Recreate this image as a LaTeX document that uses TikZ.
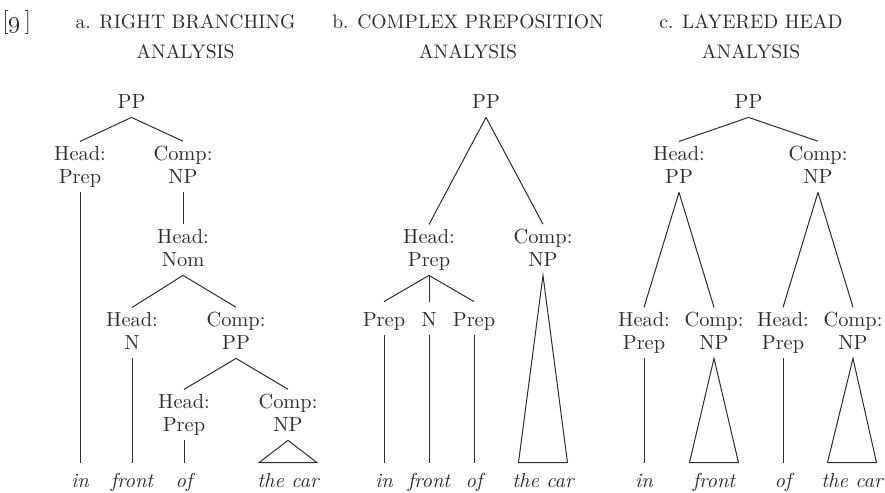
\documentclass[tikz,border=0pt]{standalone}
\usepackage{tikz}
\definecolor{TreeInk}{RGB}{45, 45, 45}

\begin{document}
\begin{tikzpicture}[
        x=0.5pt, y=-0.5pt,
        lab/.style={align=center, anchor=base, inner xsep=1pt, inner ysep=2pt, text=TreeInk,
            font=\fontsize{10.2}{11.5}\selectfont,
            execute at begin node={\rule{0pt}{10pt}},
            execute at end node={\rule[-2.5pt]{0pt}{2.5pt}}},
        word/.style={lab, font=\fontsize{10.2}{11.5}\selectfont\itshape},
        heading/.style={align=center, anchor=base, inner sep=0pt, text=TreeInk, font=\fontsize{9.8}{15}\selectfont},
        branch/.style={draw=TreeInk, line width=0.5pt}
    ]
        \useasboundingbox (0,0) rectangle (885,493);

        % Headings (base = last line)
        \node[heading, anchor=base west, font=\fontsize{12}{14}\selectfont] (num) at (2,28) {[\oldstylenums{9}\,]};
        \node[heading] (headA) at (185.5,58) {a. RIGHT BRANCHING\\ANALYSIS};
        \node[heading] (headB) at (468,58) {b. COMPLEX PREPOSITION\\ANALYSIS};
        \node[heading] (headC) at (751,58) {c. LAYERED HEAD\\ANALYSIS};

        % a. Right branching
        \node[lab] (aPP) at (131.5,108) {PP};
        \node[lab] (aHead) at (80,183) {Head:\\Prep};
        \node[lab] (aComp) at (183,183) {Comp:\\NP};
        \node[lab] (aNom) at (183,266) {Head:\\Nom};
        \node[lab] (aN) at (132,349) {Head:\\N};
        \node[lab] (aCompPP) at (236,349) {Comp:\\PP};
        \node[lab] (aPrep) at (184,431) {Head:\\Prep};
        \node[lab] (aNP) at (288,431) {Comp:\\NP};
        \node[word] (aIn) at (80,487) {in};
        \node[word] (aFront) at (132,487) {front};
        \node[word] (aOf) at (184,487) {of};
        \node[word] (aCar) at (288,487) {the car};
        \draw[branch] (aPP.south) -- (aHead.north);
        \draw[branch] (aPP.south) -- (aComp.north);
        \draw[branch] (aComp.south) -- (aNom.north);
        \draw[branch] (aNom.south) -- (aN.north);
        \draw[branch] (aNom.south) -- (aCompPP.north);
        \draw[branch] (aCompPP.south) -- (aPrep.north);
        \draw[branch] (aCompPP.south) -- (aNP.north);
        \draw[branch] (aHead.south) -- (aIn.north);
        \draw[branch] (aN.south) -- (aFront.north);
        \draw[branch] (aPrep.south) -- (aOf.north);
        \draw[branch] (aNP.south) -- ([xshift=-14.5pt]aCar.north) -- ([xshift=14.5pt]aCar.north) -- cycle;

        % b. Complex preposition
        \node[lab] (bPP) at (486,108) {PP};
        \node[lab] (bHead) at (429,266) {Head:\\Prep};
        \node[lab] (bComp) at (543,266) {Comp:\\NP};
        \node[lab] (bPrepA) at (384,326) {Prep};
        \node[lab] (bN) at (429,326) {N};
        \node[lab] (bPrepB) at (474,326) {Prep};
        \node[word] (bIn) at (384,487) {in};
        \node[word] (bFront) at (429,487) {front};
        \node[word] (bOf) at (474,487) {of};
        \node[word] (bCar) at (543,487) {the car};
        \draw[branch] (bPP.south) -- (bHead.north);
        \draw[branch] (bPP.south) -- (bComp.north);
        \draw[branch] (bHead.south) -- (bPrepA.north);
        \draw[branch] (bHead.south) -- (bN.north);
        \draw[branch] (bHead.south) -- (bPrepB.north);
        \draw[branch] (bPrepA.south) -- (bIn.north);
        \draw[branch] (bN.south) -- (bFront.north);
        \draw[branch] (bPrepB.south) -- (bOf.north);
        \draw[branch] (bComp.south) -- ([xshift=-12.25pt]bCar.north) -- ([xshift=12.25pt]bCar.north) -- cycle;

        % c. Layered head
        \node[lab] (cPP) at (748.5,108) {PP};
        \node[lab] (cHead) at (679,183) {Head:\\PP};
        \node[lab] (cComp) at (818,183) {Comp:\\NP};
        \node[lab] (cPrepA) at (644,349) {Head:\\Prep};
        \node[lab] (cNPA) at (714,349) {Comp:\\NP};
        \node[lab] (cPrepB) at (783,349) {Head:\\Prep};
        \node[lab] (cNPB) at (853,349) {Comp:\\NP};
        \node[word] (cIn) at (644,487) {in};
        \node[word] (cFront) at (714,487) {front};
        \node[word] (cOf) at (783,487) {of};
        \node[word] (cCar) at (852,487) {the car};
        \draw[branch] (cPP.south) -- (cHead.north);
        \draw[branch] (cPP.south) -- (cComp.north);
        \draw[branch] (cHead.south) -- (cPrepA.north);
        \draw[branch] (cHead.south) -- (cNPA.north);
        \draw[branch] (cComp.south) -- (cPrepB.north);
        \draw[branch] (cComp.south) -- (cNPB.north);
        \draw[branch] (cPrepA.south) -- (cIn.north);
        \draw[branch] (cPrepB.south) -- (cOf.north);
        \draw[branch] (cNPA.south) -- ([xshift=-12.25pt]cFront.north) -- ([xshift=12.25pt]cFront.north) -- cycle;
        \draw[branch] (cNPB.south) -- ([xshift=-12.25pt]cCar.north) -- ([xshift=12.25pt]cCar.north) -- cycle;
\end{tikzpicture}
\end{document}
